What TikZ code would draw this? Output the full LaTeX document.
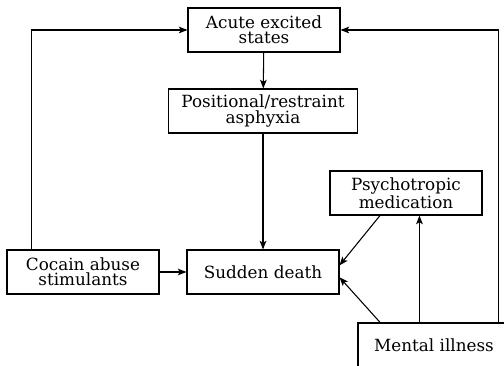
\documentclass[tikz,border=0pt]{standalone}
\usepackage{fontspec}
\setmainfont{DejaVu Serif}
\usetikzlibrary{arrows.meta}

\begin{document}
\begin{tikzpicture}[
  x=0.75pt, y=-0.75pt,
  box/.style={rectangle, draw, line width=0.8pt, minimum width=114pt,
    minimum height=33pt, align=center, inner xsep=9.5pt, inner ysep=2pt,
    font=\fontsize{12.6}{11.4}\selectfont},
  arrow/.style={-{Stealth[length=6.5pt,width=5pt,inset=1.5pt]}, line width=0.8pt}
]
  \clip (0,0) rectangle (504,366);
  \node[box] (acute) at (264,30)  {Acute excited\\states};
  \node[box] (pos)   at (263,111) {Positional/restraint\\asphyxia};
  \node[box] (psy)   at (406,193) {Psychotropic\\medication};
  \node[box] (coc)   at (83,272)  {Cocain abuse\\stimulants};
  \node[box] (sud)   at (263,272) {Sudden death};
  \node[box] (men)   at (434,345) {Mental illness};
  \coordinate (mi) at ([xshift=46.5pt]men.north west);
  \draw[arrow] (acute) -- (pos);
  \draw[arrow] (pos) -- (sud);
  \draw[arrow] (coc) -- (sud);
  \draw[arrow] ([xshift=18.75pt]coc.north west) |- (acute.west);
  \draw[arrow] ([xshift=-9pt]men.north east) |- (acute.east);
  \draw[arrow] ([xshift=-19.5pt]psy.south) -- ([yshift=5pt]sud.east);
  \draw[arrow] ([xshift=17pt]men.north west) -- ([yshift=-4pt]sud.east);
  \draw[arrow] (mi) -- (mi |- psy.south);
\end{tikzpicture}
\end{document}
